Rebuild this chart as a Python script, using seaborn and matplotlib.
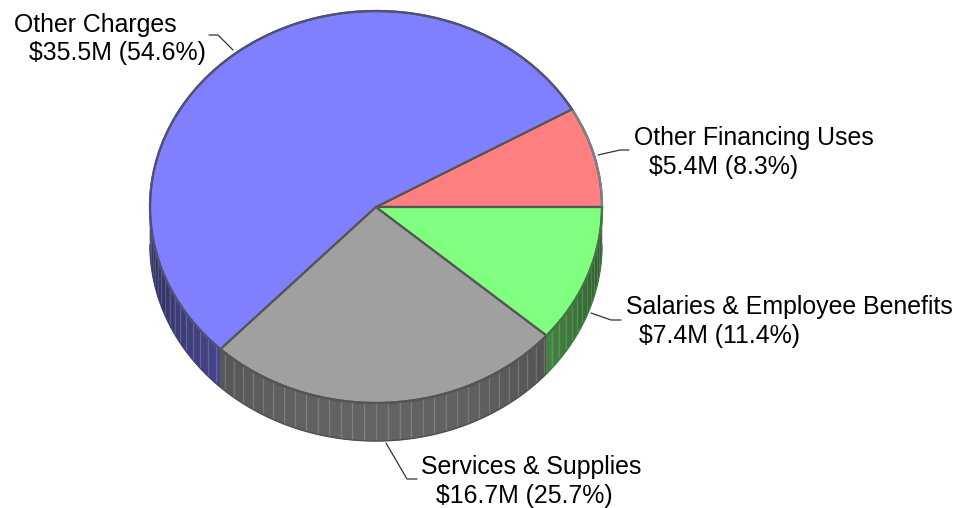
import numpy as np
import seaborn as sns
import matplotlib
matplotlib.use("Agg")
import matplotlib.pyplot as plt

sns.set_theme(style="white")
plt.rcParams['font.family'] = ['Liberation Sans', 'DejaVu Sans']

# slices, counter clockwise from 3 o'clock
names = ['Other Financing Uses', 'Other Charges', 'Services & Supplies', 'Salaries & Employee Benefits']
amounts = [5.4, 35.5, 16.7, 7.4]
amount_labels = ['$5.4M (8.3%)', '$35.5M (54.6%)', '$16.7M (25.7%)', '$7.4M (11.4%)']
top_colors = ['#ff8080', '#8080ff', '#a0a0a0', '#80ff80']
edge_colors = ['#808080', '#50507a', '#555555', '#3f7a3f']

W, H = 963, 508
cx, cy, rx, ry = 376, 207, 226, 196
depth = 38 / ry

fig = plt.figure(figsize=(W / 100, H / 100), dpi=100)
ax = fig.add_axes([0, 0, 1, 1])

ax.pie(amounts, colors=top_colors, startangle=0, counterclock=True, radius=1,
       wedgeprops=dict(edgecolor='#555555', linewidth=1.6, zorder=5))
ax.set_aspect('auto')
ax.set_xlim(-cx / rx, (W - cx) / rx)
ax.set_ylim((cy - H) / ry, cy / ry)

# the rim of the disc, only the front half shows
fracs = np.array(amounts) / sum(amounts)
edges = np.concatenate([[0], np.cumsum(fracs)]) * 360
for i in range(len(amounts)):
    start, end = edges[i], edges[i + 1]
    base = np.array(matplotlib.colors.to_rgb(top_colors[i]))
    # outer arc of the top face in its own darker colour
    th = np.radians(np.linspace(start, end, 120))
    ax.plot(np.cos(th), np.sin(th), color=edge_colors[i], lw=1.6, zorder=6)
    lo, hi = max(start, 180), min(end, 360)
    if hi <= lo:
        continue
    stops = np.unique(np.concatenate([[lo, hi], np.arange(180, 361, 3.0)]))
    stops = stops[(stops >= lo) & (stops <= hi)]
    for a, b in zip(stops[:-1], stops[1:]):
        t = np.radians(np.linspace(a, b, 6))
        mid = (a + b) / 2
        shade = 0.26 + 0.36 * np.sin(np.radians(mid - 180)) ** 0.8
        col = base * shade
        xs = np.cos(t)
        ys = np.sin(t)
        ax.fill(np.r_[xs, xs[::-1]], np.r_[ys, ys[::-1] - depth], color=col, lw=0.4, zorder=1)
        # light rib between the facets
        if a > lo and a % 3 == 0:
            ax.plot([np.cos(t[0])] * 2, [np.sin(t[0]), np.sin(t[0]) - depth],
                    color='white', alpha=0.16, lw=0.9, zorder=2)
    t = np.radians(np.linspace(lo, hi, 120))
    ax.plot(np.cos(t), np.sin(t) - depth, color=base * 0.5, lw=1.0, zorder=3)

# labels and leaders on a pixel layer
over = fig.add_axes([0, 0, 1, 1])
over.set_xlim(0, W)
over.set_ylim(H, 0)
over.axis('off')
over.patch.set_alpha(0)

label_pos = [(634, 138, 649, 167), (14, 25, 29, 53), (421, 467, 436, 496), (626, 307, 639, 336)]
leaders = [[(598, 155), (620, 150), (629, 150)],
           [(233, 50), (218, 35), (209, 35)],
           [(386, 443), (407, 479), (417, 479)],
           [(591, 313), (611, 320), (621, 320)]]
for i in range(len(names)):
    x1, y1, x2, y2 = label_pos[i]
    over.text(x1, y1, names[i], fontsize=17.9, color='black', va='center', ha='left')
    over.text(x2, y2, amount_labels[i], fontsize=17.9, color='black', va='center', ha='left')
    pts = np.array(leaders[i])
    over.plot(pts[:, 0], pts[:, 1], color='#333333', lw=0.9)

fig.savefig('out.png', dpi=100, facecolor='white')
